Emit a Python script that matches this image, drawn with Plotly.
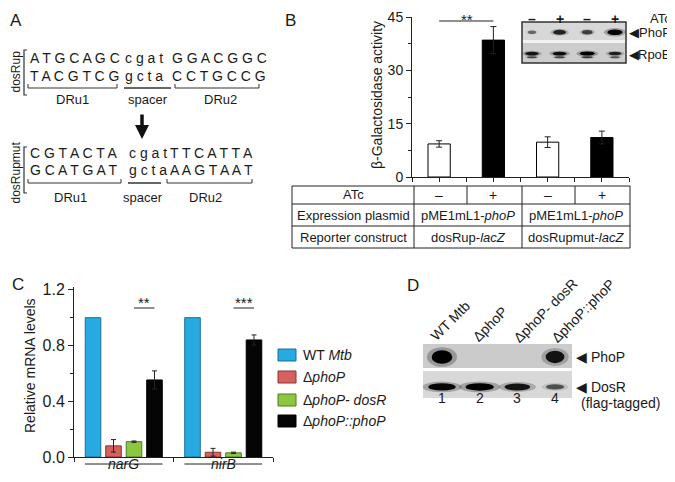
import plotly.graph_objects as go

# page body keeps an 8px margin, so the figure is drawn 8px smaller and
# reference pixel coordinates are shifted by that offset
OFF = 8
W, H = 675 - OFF, 482 - OFF
FONT = "Arial, Liberation Sans, sans-serif"
INK = "#1a1a1a"

# panel A: promoter sequences
seq_up_top = ["A T G C A G C", "c g a t", "G G A C G G C"]
seq_up_bot = ["T A C G T C G", "g c t a", "C C T G C C G"]
seq_mut_top = ["C G T A C T A", "c g a t", "T T C A T T A"]
seq_mut_bot = ["G C A T G A T", "g c t a", "A A G T A A T"]
seq_parts = ["DRu1", "spacer", "DRu2"]

# panel B: beta-galactosidase assay
b_atc = ["–", "+", "–", "+"]
b_activity = [9.3, 38.5, 9.8, 11.1]
b_error = [0.9, 3.8, 1.5, 1.8]
b_colors = ["white", "black", "white", "black"]
b_plasmid = ["pME1mL1-<i>phoP</i>", "pME1mL1-<i>phoP</i>"]
b_reporter = ["dosRup-<i>lacZ</i>", "dosRupmut-<i>lacZ</i>"]
b_inset_phop = [0.3, 0.75, 0.55, 1.0]
b_inset_rpob = [0.85, 0.9, 1.0, 0.75]

# panel C: qRT-PCR
c_genes = ["narG", "nirB"]
c_strains = ["WT <i>Mtb</i>", "Δ<i>phoP</i>", "Δ<i>phoP- dosR</i>", "Δ<i>phoP::phoP</i>"]
c_levels = [[1.0, 1.0], [0.08, 0.034], [0.11, 0.03], [0.553, 0.84]]
c_errors = [[0, 0], [0.045, 0.028], [0.005, 0.005], [0.065, 0.036]]
c_colors = ["#27aae1", "#d6625f", "#8dc63f", "#050505"]
c_outline = ["#1d6f93", "#8a3431", "#4f7a22", "#000000"]
c_signif = ["**", "***"]

# panel D: western blot
d_lanes = ["WT Mtb", "ΔphoP", "ΔphoP- dosR", "ΔphoP::phoP"]
d_phop = [1.0, 0.0, 0.0, 0.85]
d_dosr = [0.95, 1.0, 0.85, 0.45]


def px(x):
    return (x - OFF) / W


def py(y):
    return 1 - (y - OFF) / H


annotations = []
shapes = []


def txt(x, y, s, size=14, xanchor="center", yanchor="middle", angle=0,
        xref="paper", yref="paper", color=INK):
    annotations.append(dict(
        x=px(x) if xref == "paper" else x,
        y=py(y) if yref == "paper" else y,
        xref=xref, yref=yref, text=s, showarrow=False, textangle=angle,
        xanchor=xanchor, yanchor=yanchor, font=dict(size=size, color=color, family=FONT)))


def line(x0, y0, x1, y1, color="#333", width=1, xref="paper"):
    shapes.append(dict(type="line", xref=xref, yref="paper",
                       x0=px(x0) if xref == "paper" else x0, x1=px(x1) if xref == "paper" else x1,
                       y0=py(y0), y1=py(y1), line=dict(color=color, width=width)))


def path(points, color="#333", width=1):
    d = "M " + " L ".join(f"{px(a):.5f},{py(b):.5f}" for a, b in points)
    shapes.append(dict(type="path", xref="paper", yref="paper", path=d,
                       line=dict(color=color, width=width)))


def rect(x0, y0, x1, y1, fill, lcolor=None, lwidth=0):
    shapes.append(dict(type="rect", xref="paper", yref="paper",
                       x0=px(x0), x1=px(x1), y0=py(y1), y1=py(y0), fillcolor=fill,
                       line=dict(color=lcolor or fill, width=lwidth)))


def bands(xref, yref, values, yc, wmax, hmax):
    for lane, v in enumerate(values, start=1):
        if v <= 0:
            continue
        w = wmax * (0.35 + 0.65 * v)
        h = hmax * (0.45 + 0.55 * v)
        for scale, op in [(1.45, 0.25 * v), (1.0, 0.25 + 0.75 * v)]:
            shapes.append(dict(type="circle", xref=xref, yref=yref,
                               x0=lane - w * scale / 2, x1=lane + w * scale / 2,
                               y0=yc - h * scale / 2, y1=yc + h * scale / 2,
                               fillcolor="black", opacity=min(op, 1), line=dict(width=0)))


fig = go.Figure()

# ---------------- panel A ----------------
txt(16, 9, "A", size=17, yanchor="top")
blocks = [
    (seq_up_top, seq_up_bot, [28, 123, 170], 58, 76, 88, 100,
     [(28, 117), (124, 171), (175, 259)], "dosRup", 72, [72, 148, 220], (50, 95)),
    (seq_mut_top, seq_mut_bot, [28, 127, 168], 153, 170, 183, 197,
     [(28, 121), (128, 161), (167, 252)], "dosRupmut", 173, [70, 143, 205], (147, 193)),
]
for top, bot, xs, yt, yb, ybr, ylab, spans, name, yname, xlab, (bt, bb) in blocks:
    for s, x in zip(top, xs):
        txt(x, yt, s, size=14, xanchor="left")
    for s, x in zip(bot, xs):
        txt(x, yb, s, size=14, xanchor="left")
    for i, (x0, x1) in enumerate(spans):
        if i == 1:
            line(x0, ybr, x1, ybr, width=1.3)
        else:
            path([(x0, ybr - 4), (x0, ybr), (x1, ybr), (x1, ybr - 4)])
    for lab, x in zip(seq_parts, xlab):
        txt(x, ylab, lab, size=13)
    txt(15.5, yname, name, size=12, angle=-90)
    path([(27, bt), (24, bt), (24, bb), (27, bb)], width=1.2)

annotations.append(dict(x=px(142), y=py(139), xref="paper", yref="paper", ax=0, ay=-26,
                        showarrow=True, arrowhead=2, arrowsize=0.8, arrowwidth=3.5,
                        arrowcolor="#111", text=""))

# ---------------- panel B ----------------
txt(290, 9, "B", size=17, yanchor="top")
fig.add_trace(go.Bar(
    x=[1, 2, 3, 4], y=b_activity, width=0.41, xaxis="x", yaxis="y",
    marker=dict(color=b_colors, line=dict(color="black", width=1)),
    error_y=dict(type="data", array=b_error, color="#222", thickness=1, width=3),
    showlegend=False))
txt(377, 95, "β-Galactosidase activity", size=14, angle=-90)
# significance
shapes.append(dict(type="line", xref="x", yref="paper", x0=1, x1=2,
                   y0=py(21), y1=py(21), line=dict(color="#222", width=1)))
txt(467, 8.5, "**", size=15, yanchor="top")

# inset blot
rect(522, 22, 626, 41, "#d8d8d8")
rect(522, 41, 626, 63, "#cdcdcd")
rect(522, 40, 626, 43, "#f2f2f2")
bands("x3", "y3", b_inset_phop, 1.5, 0.55, 0.28)
bands("x3", "y3", [v * 0.55 for v in b_inset_rpob], 0.28, 0.55, 0.14)
bands("x3", "y3", b_inset_rpob, 0.46, 0.55, 0.2)
rect(522, 22, 626, 63, "rgba(0,0,0,0)", "#333", 1.5)
for i, s in enumerate(b_atc):
    annotations.append(dict(x=i + 1, y=py(8.5), xref="x3", yref="paper", text=f"<b>{s}</b>",
                            yanchor="top", showarrow=False,
                            font=dict(size=14, color=INK, family=FONT)))
txt(673, 8.5, "ATc", size=13, xanchor="right", yanchor="top")
for lab, y in [("PhoP", 32), ("RpoB", 54)]:
    txt(634, y, "◀", size=13)
    txt(673, y, lab, size=13, xanchor="right")

# table
TX0, TX1, TC1, TC2 = 292, 630, 414, 522
rect(TX0, 186, TX1, 248, "rgba(0,0,0,0)", "#222", 1)
line(TX0, 204, TX1, 204, color="#222")
line(TX0, 226, TX1, 226, color="#222")
line(TC1, 186, TC1, 248, color="#222")
line(TC2, 186, TC2, 248, color="#222")
line(467, 186, 467, 204, color="#222")
line(575, 186, 575, 204, color="#222")
txt(353, 195, "ATc", size=13)
txt(353, 215, "Expression plasmid", size=13)
txt(353, 237, "Reporter construct", size=13)
for i, s in enumerate(b_atc):
    annotations.append(dict(x=i + 1, y=py(195), xref="x", yref="paper", text=s,
                            showarrow=False, font=dict(size=14, color=INK, family=FONT)))
for s, x in zip(b_plasmid, [468, 576]):
    txt(x, 215, s, size=13)
for s, x in zip(b_reporter, [468, 576]):
    txt(x, 237, s, size=13)

# ---------------- panel C ----------------
txt(18, 284, "C", size=17)
for name, vals, errs, col, oc in zip(c_strains, c_levels, c_errors, c_colors, c_outline):
    fig.add_trace(go.Bar(
        x=[0, 1], y=vals, name=name, xaxis="x2", yaxis="y2",
        marker=dict(color=col, line=dict(color=oc, width=1)),
        error_y=dict(type="data", array=errs, color="#222", thickness=1, width=2.5,
                     visible=any(e > 0 for e in errs)),
        showlegend=False))
txt(30, 366, "Relative mRNA levels", size=14, angle=-90)
for g, (gene, sig) in enumerate(zip(c_genes, c_signif)):
    shapes.append(dict(type="line", xref="x2", yref="paper", x0=g + 0.103, x1=g + 0.309,
                       y0=py(308), y1=py(308), line=dict(color="#222", width=1)))
    annotations.append(dict(x=g + 0.206, y=py(302), xref="x2", yref="paper", text=sig,
                            showarrow=False, font=dict(size=15, color=INK, family=FONT)))
    shapes.append(dict(type="line", xref="x2", yref="paper", x0=g - 0.39, x1=g + 0.39,
                       y0=py(464), y1=py(464), line=dict(color="#222", width=1)))
    annotations.append(dict(x=g, y=py(474), xref="x2", yref="paper", text=f"<i>{gene}</i>",
                            showarrow=False, font=dict(size=14, color=INK, family=FONT)))
# legend
for name, col, oc, yc in zip(c_strains, c_colors, c_outline, [355, 377, 400, 421]):
    rect(278, yc - 6, 296, yc + 6, col, oc, 1)
    txt(301, yc, name, size=14, xanchor="left")

# ---------------- panel D ----------------
txt(413, 285, "D", size=17)
rect(423, 344, 572, 368, "#cbcbcb")
rect(423, 371, 572, 398, "#d8d8d8")
bands("x4", "y4", d_phop, 1.52, 0.55, 0.5)
bands("x4", "y4", d_dosr, 0.41, 0.75, 0.28)
for s, (x, y) in zip(d_lanes, [(450, 321), (490, 324), (545, 311), (583, 311)]):
    txt(x, y, s, size=14, angle=-45)
for i in range(4):
    annotations.append(dict(x=i + 1, y=py(408), xref="x4", yref="paper", text=str(i + 1),
                            showarrow=False, font=dict(size=14, color=INK, family=FONT)))
txt(574, 357, "◀ PhoP", size=14, xanchor="left")
txt(574, 387, "◀ DosR", size=14, xanchor="left")
txt(579, 403, "(flag-tagged)", size=14, xanchor="left")

axis_common = dict(showline=True, linecolor="#222", linewidth=1, showgrid=False,
                   zeroline=False, ticks="outside", tickcolor="#222", fixedrange=True,
                   automargin=False, ticklabeloverflow="allow",
                   tickfont=dict(family=FONT, color=INK))
hidden = dict(visible=False, showgrid=False, zeroline=False, fixedrange=True, automargin=False)

fig.update_layout(
    width=W, height=H, margin=dict(l=0, r=0, t=0, b=0, autoexpand=False),
    paper_bgcolor="white", plot_bgcolor="rgba(0,0,0,0)",
    barmode="group", bargap=0.176, bargroupgap=0.24,
    font=dict(family=FONT, color=INK),
    xaxis=dict(axis_common, domain=[px(412), px(629)], range=[0.5, 4.5], anchor="y",
               tickvals=[0.5, 1, 1.5, 2, 2.5, 3, 3.5, 4, 4.5], ticktext=[""] * 9, ticklen=4),
    yaxis=dict(axis_common, domain=[py(177), py(17)], range=[0, 45], anchor="x",
               tickvals=[0, 15, 30, 45], ticklen=5, tickfont=dict(size=14, family=FONT, color=INK),
               minor=dict(tickvals=[7.5, 22.5, 37.5], ticks="outside", ticklen=3, tickcolor="#222")),
    xaxis2=dict(axis_common, domain=[px(74), px(273)], range=[-0.5, 1.5], anchor="y2",
                tickvals=[-0.5, 0.5, 1.5], ticktext=["", "", ""], ticklen=4),
    yaxis2=dict(axis_common, domain=[py(457), py(287)], range=[0, 1.22], anchor="x2",
                tickvals=[0, 0.4, 0.8, 1.2], ticktext=["0.0", "0.4", "0.8", "1.2"], ticklen=5,
                tickfont=dict(size=16, family=FONT, color=INK),
                minor=dict(tickvals=[0.2, 0.6, 1.0], ticks="outside", ticklen=3, tickcolor="#222")),
    xaxis3=dict(hidden, domain=[px(522), px(626)], range=[0.64, 4.4], anchor="y3"),
    yaxis3=dict(hidden, domain=[py(63), py(22)], range=[0, 2], anchor="x3"),
    xaxis4=dict(hidden, domain=[px(423), px(572)], range=[0.496, 4.45], anchor="y4"),
    yaxis4=dict(hidden, domain=[py(398), py(344)], range=[0, 2], anchor="x4"),
    annotations=annotations, shapes=shapes,
)

fig.write_html("out.html")
